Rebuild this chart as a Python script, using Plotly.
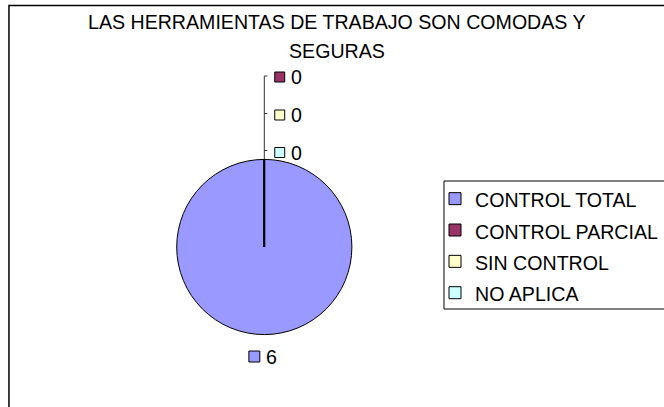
import plotly.graph_objects as go

# ---- data ----
categories = ["CONTROL TOTAL", "CONTROL PARCIAL", "SIN CONTROL", "NO APLICA"]
values = [6, 0, 0, 0]
colors = ["#9999FF", "#993366", "#FFFFCC", "#CCFFFF"]
title_lines = ["LAS HERRAMIENTAS DE TRABAJO SON COMODAS Y", "SEGURAS"]

# ---- layout constants (pixels, measured on the reference picture) ----
W, H = 664, 407
FONT = "Liberation Sans, Arial, sans-serif"
FS = 19.6
LEG_FS = 21.8                # sets the legend row pitch (~31 px)
PIE_CX, PIE_CY, PIE_R = 265.5, 247.0, 88.0


def px(x):
    return x / W


def py(y):
    return 1 - y / H


legend_labels = [f'<span style="font-size:{FS}px">{c}</span>' for c in categories]

fig = go.Figure()
fig.add_trace(go.Pie(
    labels=legend_labels,
    values=values,
    marker=dict(colors=colors, line=dict(color="black", width=1)),
    sort=False,
    direction="clockwise",
    rotation=0,
    textinfo="none",
    hoverinfo="label+value",
    domain=dict(x=[px(PIE_CX - PIE_R), px(PIE_CX + PIE_R)],
                y=[py(PIE_CY + PIE_R), py(PIE_CY - PIE_R)]),
    showlegend=True,
))

shapes = []
annotations = []

# chart frame
shapes.append(dict(type="rect", xref="paper", yref="paper",
                   x0=px(9), x1=1.05, y0=-0.05, y1=py(5.5),
                   line=dict(color="black", width=1.5), fillcolor="rgba(0,0,0,0)"))
# legend frame
shapes.append(dict(type="rect", xref="paper", yref="paper",
                   x0=px(446), x1=1.05, y0=py(309), y1=py(181),
                   line=dict(color="black", width=1), fillcolor="rgba(0,0,0,0)"))

# title (two centred lines)
for txt, ly in zip(title_lines, [22.2, 50.8]):
    annotations.append(dict(xref="paper", yref="paper", x=px(339), y=py(ly),
                            xanchor="center", yanchor="middle", showarrow=False,
                            text=txt, font=dict(family=FONT, size=FS, color="black")))

# slice boundary of the zero-valued slices (from centre to 12 o'clock)
shapes.append(dict(type="line", xref="paper", yref="paper",
                   x0=px(PIE_CX), x1=px(PIE_CX), y0=py(PIE_CY), y1=py(PIE_CY - PIE_R),
                   line=dict(color="black", width=2)))

# leader lines for the zero-valued slices, stacked above the pie
label_y = [77, 115, 152.5]          # top -> bottom
tick_y = [76, 113.5, 150.5]
zero_idx = [i for i, v in enumerate(values) if v == 0]
shapes.append(dict(type="line", xref="paper", yref="paper",
                   x0=px(PIE_CX), x1=px(PIE_CX), y0=py(PIE_CY - PIE_R), y1=py(tick_y[0]),
                   line=dict(color="#333333", width=1)))
for k, i in enumerate(zero_idx):
    ly = label_y[k]
    shapes.append(dict(type="line", xref="paper", yref="paper",
                       x0=px(PIE_CX), x1=px(PIE_CX + 3), y0=py(tick_y[k]), y1=py(tick_y[k]),
                       line=dict(color="#333333", width=1)))
    shapes.append(dict(type="rect", xref="paper", yref="paper",
                       x0=px(276), x1=px(286), y0=py(ly + 5), y1=py(ly - 5),
                       fillcolor=colors[i], line=dict(color="black", width=1)))
    annotations.append(dict(xref="paper", yref="paper", x=px(290), y=py(ly),
                            xanchor="left", yanchor="middle", showarrow=False,
                            text=str(values[i]), font=dict(family=FONT, size=FS, color="black")))

# label for the non-zero slice, below the pie
for i, v in enumerate(values):
    if v > 0:
        ly = 356.5
        shapes.append(dict(type="rect", xref="paper", yref="paper",
                           x0=px(250), x1=px(261), y0=py(ly + 5.5), y1=py(ly - 5.5),
                           fillcolor=colors[i], line=dict(color="black", width=1)))
        annotations.append(dict(xref="paper", yref="paper", x=px(265.5), y=py(ly),
                                xanchor="left", yanchor="middle", showarrow=False,
                                text=str(v), font=dict(family=FONT, size=FS, color="black")))

fig.update_layout(
    width=W, height=H,
    margin=dict(l=0, r=0, t=0, b=0),
    paper_bgcolor="white",
    plot_bgcolor="white",
    font=dict(family=FONT, size=FS, color="black"),
    legend=dict(x=px(437), xanchor="left", y=py(178), yanchor="top",
                bgcolor="rgba(0,0,0,0)", borderwidth=0,
                font=dict(family=FONT, size=LEG_FS, color="black"),
                traceorder="normal"),
    shapes=shapes,
    annotations=annotations,
)

fig.write_html("out.html",
               config={"displayModeBar": False},
               post_script="document.body.style.margin='0';document.body.style.overflow='hidden';")
